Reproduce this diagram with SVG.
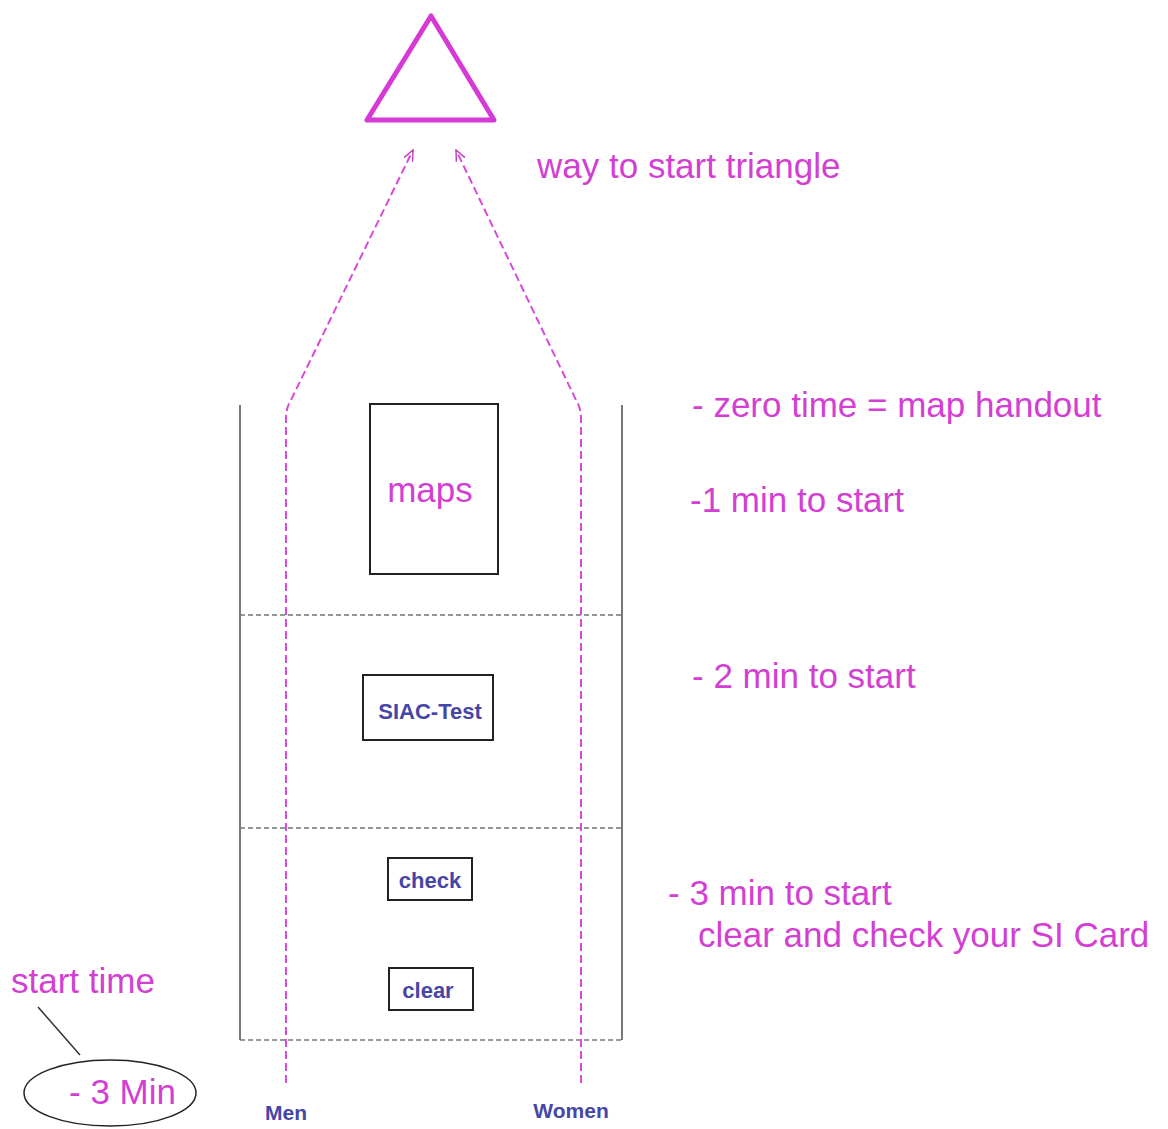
<svg xmlns="http://www.w3.org/2000/svg" width="1168" height="1129" viewBox="0 0 1168 1129">
<defs>
<marker id="arr" viewBox="0 0 10 10" refX="9" refY="5" markerWidth="12" markerHeight="12" markerUnits="userSpaceOnUse" orient="auto">
<path d="M0,1 L9,5 L0,9" fill="none" stroke="#c040c0" stroke-width="1.2"/>
</marker>
</defs>
<style>
.pink{fill:#d23fd2;font-family:"Liberation Sans",Arial,sans-serif;font-size:35px}
.blue{fill:#4646a8;font-family:"Liberation Sans",Arial,sans-serif;font-weight:bold}
.box{fill:#fff;stroke:#222;stroke-width:2}
.wall{stroke:#777;stroke-width:2;fill:none}
.sep{stroke:#777;stroke-width:1.5;stroke-dasharray:5 3;fill:none}
.lane{stroke:#d84ad8;stroke-width:2;stroke-dasharray:8 4;fill:none}
</style>
<rect width="1168" height="1129" fill="#fff"/>
<g id="triangle"><polygon points="431,16 367,120 494,120" fill="none" stroke="#d63ad6" stroke-width="5" stroke-linejoin="round"/></g>
<g id="walls">
<line class="wall" x1="240" y1="405" x2="240" y2="1040"/>
<line class="wall" x1="622" y1="405" x2="622" y2="1040"/>
<line class="sep" x1="240" y1="615" x2="622" y2="615"/>
<line class="sep" x1="240" y1="828" x2="622" y2="828"/>
<line class="sep" x1="240" y1="1040" x2="622" y2="1040"/>
</g>
<g id="connectors">
<path class="lane" d="M286,1083 L286,418 Q286,408 291,400 L413,150" marker-end="url(#arr)"/>
<path class="lane" d="M581,1083 L581,418 Q581,408 576,400 L456,150" marker-end="url(#arr)"/>
<line x1="38" y1="1007" x2="80" y2="1055" stroke="#333" stroke-width="1.5"/>
</g>
<g id="maps"><rect class="box" x="370" y="404" width="128" height="170"/><text class="pink" x="430" y="502" text-anchor="middle" font-size="34">maps</text></g>
<g id="siac"><rect class="box" x="363" y="675" width="130" height="65"/><text class="blue" x="430" y="719" text-anchor="middle" font-size="22">SIAC-Test</text></g>
<g id="check"><rect class="box" x="388" y="858" width="84" height="42"/><text class="blue" x="430" y="888" text-anchor="middle" font-size="22">check</text></g>
<g id="clear"><rect class="box" x="389" y="968" width="84" height="42"/><text class="blue" x="428" y="998" text-anchor="middle" font-size="22">clear</text></g>
<g id="labels">
<text class="blue" x="286" y="1120" text-anchor="middle" font-size="21">Men</text>
<text class="blue" x="571" y="1118" text-anchor="middle" font-size="21">Women</text>
<text class="pink" x="537" y="178">way to start triangle</text>
<text class="pink" x="692" y="417">- zero time = map handout</text>
<text class="pink" x="690" y="512">-1 min to start</text>
<text class="pink" x="692" y="688">- 2 min to start</text>
<text class="pink" x="668" y="905">- 3 min to start</text>
<text class="pink" x="698" y="947">clear and check your SI Card</text>
<text class="pink" x="11" y="993">start time</text>
</g>
<g id="startmin"><ellipse cx="110" cy="1093" rx="86" ry="33" fill="none" stroke="#222" stroke-width="1.5"/><text class="pink" x="69" y="1104">- 3 Min</text></g>
</svg>
